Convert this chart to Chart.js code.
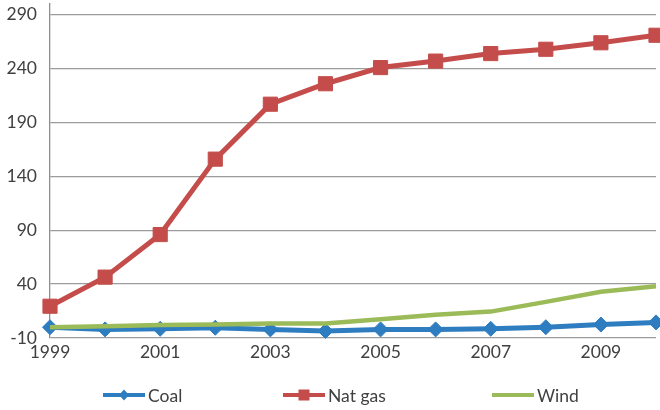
<!DOCTYPE html>
<html>
<head>
<meta charset="utf-8">
<script src="https://cdn.jsdelivr.net/npm/chart.js@4/dist/chart.umd.min.js"></script>
<style>
  html, body { margin: 0; padding: 0; background: #ffffff; }
  #wrap { width: 660px; height: 410px; }
</style>
</head>
<body>
<div id="wrap"><canvas id="c" width="660" height="410"></canvas></div>
<script>
// Annual change by fuel source, 1999-2010
const years  = ['1999', '2000', '2001', '2002', '2003', '2004', '2005', '2006', '2007', '2008', '2009', '2010'];
const coal   = [0, -2, -1.5, -0.5, -2, -3.5, -2, -2, -1.5, 0, 2.5, 4.5];
const natGas = [19.5, 46.5, 86, 156, 207, 226, 241, 247, 254, 258, 264, 271];
const wind   = [0, 1, 2, 2.5, 3.5, 3.5, 7.5, 11.5, 14.5, 23.5, 33, 38];
const yTicks = [-10, 40, 90, 140, 190, 240, 290];

const COAL_COLOR = '#2e7dc0';
const GAS_COLOR  = '#c44d4b';
const WIND_COLOR = '#9bbb59';
const TEXT_COLOR = '#404040';
const FONT = 'Lato, "Open Sans", sans-serif';

// Legend entries: line with marker, drawn below the plot
const legendItems = [
  { label: 'Coal',    color: COAL_COLOR, marker: 'diamond', x: 103 },
  { label: 'Nat gas', color: GAS_COLOR,  marker: 'square',  x: 283 },
  { label: 'Wind',    color: WIND_COLOR, marker: 'none',    x: 492 }
];

const bottomLegend = {
  id: 'bottomLegend',
  afterDraw(chart) {
    const ctx = chart.ctx;
    const y = 395;
    const lineLen = 42;
    ctx.save();
    legendItems.forEach(item => {
      ctx.strokeStyle = item.color;
      ctx.lineWidth = 4;
      ctx.lineCap = 'butt';
      ctx.beginPath();
      ctx.moveTo(item.x, y);
      ctx.lineTo(item.x + lineLen, y);
      ctx.stroke();
      const cx = item.x + lineLen / 2;
      ctx.fillStyle = item.color;
      if (item.marker === 'diamond') {
        ctx.beginPath();
        ctx.moveTo(cx, y - 5.5);
        ctx.lineTo(cx + 5, y);
        ctx.lineTo(cx, y + 5.5);
        ctx.lineTo(cx - 5, y);
        ctx.closePath();
        ctx.fill();
      } else if (item.marker === 'square') {
        ctx.fillRect(cx - 5.5, y - 5.5, 11, 11);
      }
      ctx.fillStyle = TEXT_COLOR;
      ctx.font = '17.5px ' + FONT;
      ctx.textBaseline = 'middle';
      ctx.textAlign = 'left';
      ctx.fillText(item.label, item.x + lineLen + 3, y + 1);
    });
    ctx.restore();
  }
};

new Chart(document.getElementById('c'), {
  type: 'line',
  data: {
    labels: years,
    datasets: [
      {
        label: 'Coal',
        data: coal,
        borderColor: COAL_COLOR,
        backgroundColor: COAL_COLOR,
        borderWidth: 5,
        pointStyle: 'rectRot',
        pointRadius: 7.5,
        pointBorderWidth: 1,
        pointBorderColor: COAL_COLOR,
        pointBackgroundColor: COAL_COLOR,
        tension: 0,
        clip: false,
        order: 2
      },
      {
        label: 'Nat gas',
        data: natGas,
        borderColor: GAS_COLOR,
        backgroundColor: GAS_COLOR,
        borderWidth: 5,
        pointStyle: 'rect',
        pointRadius: 10,
        pointBorderWidth: 1,
        pointBorderColor: GAS_COLOR,
        pointBackgroundColor: GAS_COLOR,
        tension: 0,
        clip: false,
        order: 1
      },
      {
        label: 'Wind',
        data: wind,
        borderColor: WIND_COLOR,
        backgroundColor: WIND_COLOR,
        borderWidth: 4.5,
        pointRadius: 0,
        tension: 0,
        clip: false,
        order: 0
      }
    ]
  },
  options: {
    responsive: false,
    animation: false,
    layout: { autoPadding: false, padding: { left: 0, right: 4, top: 4, bottom: 42 } },
    plugins: {
      legend: { display: false },
      tooltip: { enabled: false }
    },
    scales: {
      x: {
        type: 'category',
        offset: false,
        grid: { display: false, drawTicks: false },
        border: { display: false },
        afterFit(scale) {
          scale.height = 30;
          scale.paddingLeft = 0;
          scale.paddingRight = 0;
        },
        ticks: {
          autoSkip: false,
          maxRotation: 0,
          minRotation: 0,
          padding: 4,
          color: TEXT_COLOR,
          font: { family: FONT, size: 17.5 },
          callback: (v, i) => (i % 2 === 0 ? years[i] : '')
        }
      },
      y: {
        min: -10,
        max: 300,
        afterBuildTicks(scale) { scale.ticks = yTicks.map(v => ({ value: v })); },
        afterFit(scale) {
          scale.width = 50;
          scale.paddingTop = 0;
          scale.paddingBottom = 0;
        },
        grid: { color: '#9c9c9c', lineWidth: 1.3, drawTicks: false },
        border: { display: true, color: '#8e8e8e', width: 1.3 },
        ticks: {
          padding: 13,
          color: TEXT_COLOR,
          font: { family: FONT, size: 17.5 }
        }
      }
    }
  },
  plugins: [bottomLegend]
});
</script>
</body>
</html>
